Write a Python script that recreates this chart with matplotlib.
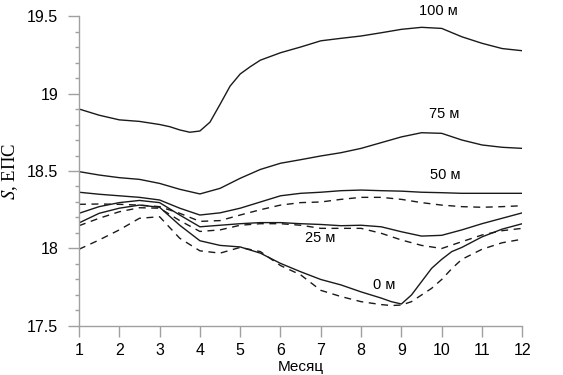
import numpy as np
import matplotlib
matplotlib.use('Agg')
import matplotlib.pyplot as plt
from matplotlib.ticker import MultipleLocator

plt.rcParams['font.family'] = ['Liberation Sans', 'DejaVu Sans']
plt.rcParams['mathtext.fontset'] = 'stix'

# month grid (half-month steps)
months = [1, 1.5, 2, 2.5, 3, 3.5, 4, 4.5, 5, 5.5, 6, 6.5,
          7, 7.5, 8, 8.5, 9, 9.5, 10, 10.5, 11, 11.5, 12]

# 100 m has a sharp rise, read at finer steps there
months100 = [1, 1.5, 2, 2.5, 3, 3.25, 3.5, 3.75, 4, 4.25, 4.5, 4.75, 5, 5.25, 5.5, 6, 6.5,
             7, 7.5, 8, 8.5, 9, 9.5, 10, 10.5, 11, 11.5, 12]
s100 = [18.90, 18.86, 18.83, 18.82, 18.80, 18.786, 18.765, 18.750, 18.758, 18.815, 18.93,
        19.048, 19.126, 19.173, 19.215, 19.263, 19.30,
        19.34, 19.356, 19.371, 19.392, 19.414, 19.427, 19.42, 19.366, 19.324, 19.29, 19.276]
s75 = [18.496, 18.474, 18.457, 18.446, 18.42, 18.382, 18.352, 18.388, 18.453, 18.51, 18.55, 18.573,
       18.597, 18.618, 18.646, 18.683, 18.72, 18.747, 18.743, 18.70, 18.668, 18.653, 18.646]
s50 = [18.363, 18.35, 18.34, 18.33, 18.313, 18.26, 18.216, 18.23, 18.26, 18.30, 18.34, 18.356,
       18.363, 18.373, 18.377, 18.373, 18.37, 18.363, 18.36, 18.356, 18.356, 18.356, 18.356]
s50_d = [18.285, 18.287, 18.285, 18.28, 18.27, 18.227, 18.175, 18.18, 18.216, 18.25, 18.28, 18.296,
         18.30, 18.317, 18.33, 18.33, 18.317, 18.296, 18.28, 18.27, 18.266, 18.27, 18.276]
s25 = [18.227, 18.27, 18.296, 18.31, 18.296, 18.216, 18.14, 18.15, 18.16, 18.167, 18.167, 18.16,
       18.155, 18.147, 18.15, 18.14, 18.108, 18.08, 18.085, 18.12, 18.16, 18.195, 18.23]
s25_d = [18.147, 18.195, 18.237, 18.263, 18.26, 18.18, 18.11, 18.12, 18.15, 18.16, 18.16, 18.15,
         18.13, 18.13, 18.13, 18.098, 18.055, 18.02, 18.0, 18.044, 18.087, 18.115, 18.13]

# 0 m, finer steps around the minimum
months0 = [1, 1.5, 2, 2.5, 3, 3.5, 4, 4.5, 5, 5.5, 6, 6.5, 7, 7.5, 8, 8.5, 8.75,
           9, 9.25, 9.5, 9.75, 10, 10.25, 10.5, 11, 11.5, 12]
s0 = [18.165, 18.227, 18.26, 18.28, 18.266, 18.15, 18.05, 18.02, 18.01, 17.97, 17.904, 17.85,
      17.80, 17.765, 17.72, 17.68, 17.657, 17.642, 17.70, 17.786, 17.872, 17.93, 17.98,
      18.007, 18.075, 18.125, 18.16]
s0_d = [17.995, 18.055, 18.12, 18.195, 18.205, 18.066, 17.985, 17.97, 18.007, 17.98, 17.89, 17.83,
        17.73, 17.69, 17.657, 17.638, 17.632, 17.635, 17.657, 17.70, 17.743, 17.80, 17.87,
        17.93, 17.995, 18.037, 18.06]

labels = ['100 м', '75 м', '50 м', '25 м', '0 м']
label_x = [9.93, 10.06, 10.08, 6.98, 8.57]
label_y = [19.535, 18.868, 18.474, 18.068, 17.765]

fig = plt.figure(figsize=(5.63, 3.75), dpi=100)
ax = fig.add_axes([0.1403, 0.1307, 0.7874, 0.8266])

lc = '#1a1a1a'
ax.plot(months100, s100, color=lc, lw=1.0)
for s in [s75, s50, s25]:
    ax.plot(months, s, color=lc, lw=1.0)
ax.plot(months0, s0, color=lc, lw=1.0)
for s in [s50_d, s25_d]:
    ax.plot(months, s, color=lc, lw=1.0, ls=(0, (5, 4)))
ax.plot(months0, s0_d, color=lc, lw=1.0, ls=(0, (5, 4)))

for t, x, y in zip(labels, label_x, label_y):
    ax.text(x, y, t, ha='center', va='center', fontsize=10.5, clip_on=False)

ax.set_xlim(1, 12)
ax.set_ylim(17.5, 19.5)
ax.set_xticks(range(1, 13))
ax.set_yticks([17.5, 18, 18.5, 19, 19.5])
ax.set_yticklabels(['17.5', '18', '18.5', '19', '19.5'])
ax.yaxis.set_minor_locator(MultipleLocator(0.1))

gray = '#a0a0a0'
for side in ['top', 'right']:
    ax.spines[side].set_visible(False)
for side in ['left', 'bottom']:
    ax.spines[side].set_color(gray)
    ax.spines[side].set_linewidth(1.0)

ax.tick_params(axis='both', which='major', direction='out', length=8, width=1,
               color=gray, labelsize=11.5, labelcolor='black')
ax.tick_params(axis='x', pad=4)
ax.tick_params(axis='y', pad=7)
ax.tick_params(axis='y', which='minor', direction='out', length=3, width=1, color=gray)

ax.set_xlabel('Месяц', fontsize=11)
ax.xaxis.set_label_coords(0.5, -0.11)
ax.set_ylabel('$S$, ЕПС', fontsize=13.5, family='Liberation Serif')
ax.yaxis.set_label_coords(-0.133, 0.5)

fig.savefig('out.png', dpi=100)
